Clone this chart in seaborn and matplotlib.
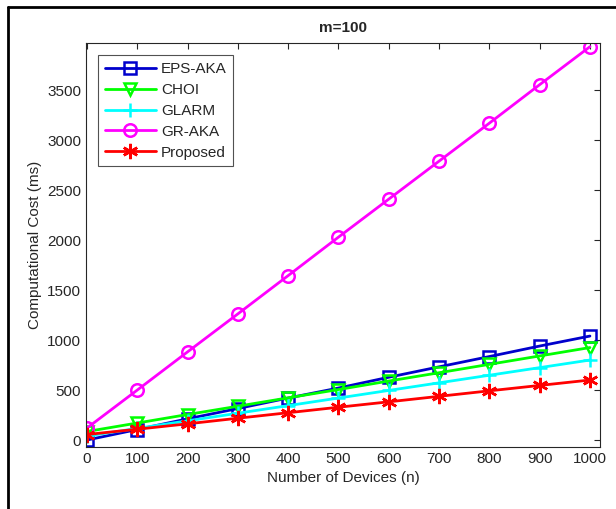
import matplotlib
matplotlib.use("Agg")
import matplotlib.pyplot as plt
import seaborn as sns
import pandas as pd
from matplotlib.lines import Line2D

devices = [0, 100, 200, 300, 400, 500, 600, 700, 800, 900, 1000]
eps_aka = [0, 105, 212, 315, 420, 520, 628, 732, 835, 940, 1040]
choi = [85, 170, 255, 338, 422, 505, 590, 673, 757, 841, 925]
glarm = [40, 116, 192, 268, 344, 420, 496, 572, 648, 724, 800]
gr_aka = [120, 500, 882, 1262, 1645, 2030, 2410, 2790, 3170, 3555, 3935]
proposed = [55, 108, 162, 218, 273, 328, 382, 437, 492, 546, 600]

names = ["EPS-AKA", "CHOI", "GLARM", "GR-AKA", "Proposed"]
series = [eps_aka, choi, glarm, gr_aka, proposed]
colors = ["#0000CC", "#00FF00", "#00FFFF", "#FF00FF", "#FF0000"]
markers = ["s", "v", "+", "o", (6, 2, 0)]
msizes = [8, 8, 10, 9, 11]

df = pd.DataFrame({
    "n": devices * len(names),
    "cost": sum(series, []),
    "scheme": [nm for nm in names for _ in devices],
})

sns.set_theme(style="white")
plt.rcParams["font.family"] = ["Liberation Sans", "DejaVu Sans"]

fig = plt.figure(figsize=(6.16, 5.09), dpi=100)
ax = fig.add_axes([86 / 616, 1 - 447 / 509, 514 / 616, 404 / 509])

for nm, col, mk, ms in zip(names, colors, markers, msizes):
    sub = df[df["scheme"] == nm]
    sns.lineplot(data=sub, x="n", y="cost", ax=ax, color=col, lw=2,
                 marker=mk, markersize=ms, markerfacecolor="none",
                 markeredgecolor=col, markeredgewidth=1.8, label=nm)

ax.set_xlim(-2, 1020)
ax.set_ylim(-70, 3972)
ax.set_xticks(devices)
ax.set_yticks(range(0, 4000, 500))
ax.tick_params(direction="in", top=True, right=True, length=4, width=0.8,
               colors="#262626", labelsize=11, labelcolor="#262626")
for s in ax.spines.values():
    s.set_color("#262626")
    s.set_linewidth(0.8)
ax.set_xlabel("Number of Devices (n)", fontsize=11, color="#262626")
ax.set_ylabel("Computational Cost (ms)", fontsize=11, color="#262626")
ax.set_title("m=100", fontsize=11, fontweight="bold", pad=8)

leg = ax.legend(loc="upper left", fontsize=11, frameon=True, fancybox=False,
                edgecolor="#262626", handlelength=3.3, borderpad=0.45,
                labelspacing=0.45, handletextpad=0.35, borderaxespad=0.8)
leg.get_frame().set_linewidth(0.8)

fig.add_artist(Line2D([8 / 616, 8 / 616], [0, 1 - 7 / 509], transform=fig.transFigure,
                      color="black", lw=2))
fig.add_artist(Line2D([8 / 616, 1], [1 - 7 / 509, 1 - 7 / 509], transform=fig.transFigure,
                      color="black", lw=2))

fig.savefig("out.png", dpi=100)
